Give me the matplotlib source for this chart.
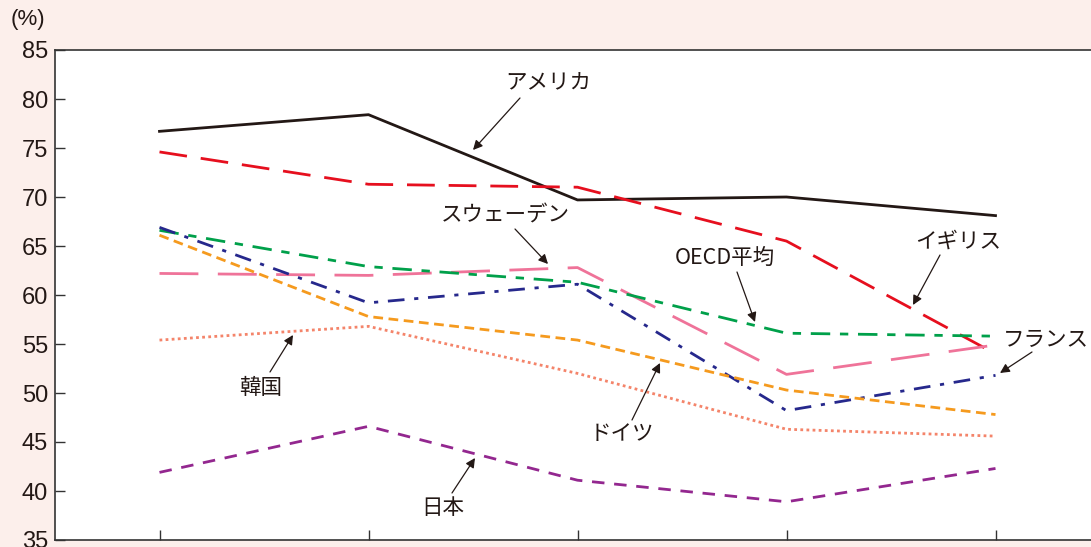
import matplotlib
matplotlib.use("Agg")
import matplotlib.pyplot as plt

plt.rcParams['font.family'] = ['Liberation Sans', 'Noto Sans CJK JP', 'DejaVu Sans']

x = [0, 1, 2, 3, 4]
america = [76.7, 78.4, 69.7, 70.0, 68.1]
uk = [74.6, 71.3, 71.0, 65.5, 54.0]
sweden = [62.2, 62.0, 62.8, 51.9, 54.9]
oecd = [66.6, 62.9, 61.3, 56.1, 55.8]
france = [66.9, 59.2, 61.1, 48.2, 51.8]
germany = [66.1, 57.8, 55.4, 50.3, 47.8]
korea = [55.4, 56.8, 52.0, 46.3, 45.6]
japan = [41.9, 46.6, 41.1, 38.9, 42.3]

bg = '#fcefeb'
fig = plt.figure(figsize=(10.91, 5.47), dpi=100, facecolor=bg)
ax = fig.add_axes([55/1091, 7/547, 1045/1091, 490/547])
ax.set_facecolor('white')

ax.plot(x, america, color='#231815', lw=2, ls='-')
ax.plot(x, uk, color='#e60f1e', lw=2, ls=(0, (10, 5)))
ax.plot(x, sweden, color='#ef7399', lw=2, ls=(0, (14, 7)))
ax.plot(x, oecd, color='#00a04a', lw=2, ls=(0, (7, 3.5, 3, 3.5)))
ax.plot(x, france, color='#26288c', lw=2, ls=(0, (6, 3.5, 1.5, 3.5)))
ax.plot(x, germany, color='#f59a1e', lw=2, ls=(0, (3.5, 2)))
ax.plot(x, korea, color='#f4846a', lw=2, ls=(0, (1, 1.2)))
ax.plot(x, japan, color='#93278f', lw=2, ls=(0, (4.5, 3.5)))

ax.set_xlim(-0.5, 4.5)
ax.set_ylim(35, 85)
ax.set_yticks(range(35, 90, 5))
ax.set_xticks(x)
ax.set_xticklabels([])
ax.tick_params(direction='in', length=7, width=1, color='#333333', labelsize=17,
               labelcolor='#231815')
ax.tick_params(axis='y', pad=5)
for s in ['left', 'bottom', 'top']:
    ax.spines[s].set_color('#333333')
    ax.spines[s].set_linewidth(1.2)
ax.spines['right'].set_visible(False)

fig.text(28/1091, 1 - 20/547, '(%)', fontsize=16, ha='center', va='center', color='#231815')

notes = [
    ('アメリカ', (548, 83), (520, 98), (473, 150)),
    ('スウェーデン', (505, 216), (515, 229), (548, 264)),
    ('OECD平均', (725, 258), (737, 272), (755, 322)),
    ('イギリス', (958, 242), (940, 255), (913, 305)),
    ('フランス', (1046, 340), (1032, 352), (1000, 373)),
    ('韓国', (261, 388), (270, 372), (293, 335)),
    ('ドイツ', (622, 434), (632, 420), (660, 363)),
    ('日本', (443, 508), (452, 493), (475, 458)),
]

def to_fig(p):
    return (p[0] / 1091, 1 - p[1] / 547)

for label, tpos, start, end in notes:
    fig.text(*to_fig(tpos), label, fontsize=15.5, ha='center', va='center', color='#231815',
             family=['Noto Sans CJK JP', 'DejaVu Sans'])
    ax.annotate('', xy=to_fig(end), xycoords='figure fraction',
                xytext=to_fig(start), textcoords='figure fraction',
                arrowprops=dict(arrowstyle='-|>', color='#231815', lw=0.9,
                                mutation_scale=14, shrinkA=0, shrinkB=0))

fig.savefig('out.png', dpi=100, facecolor=bg)
